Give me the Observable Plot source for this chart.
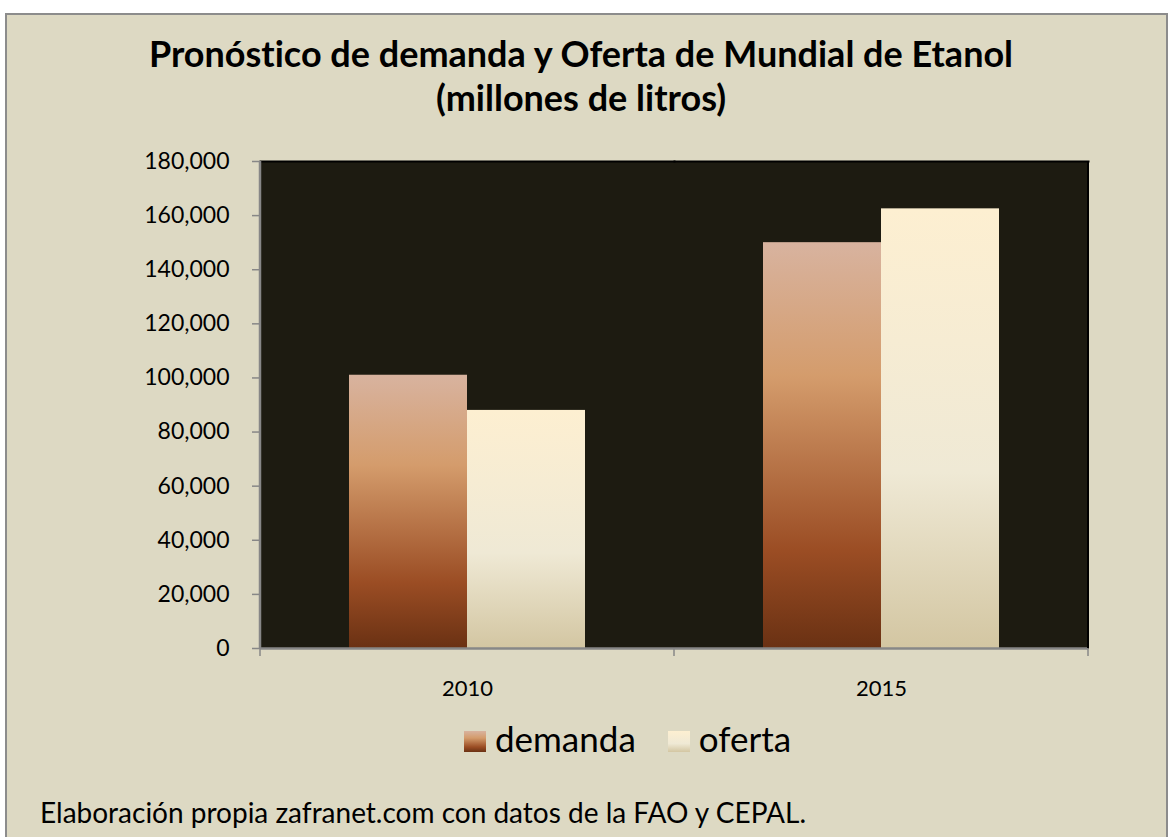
<!DOCTYPE html>
<html><head><meta charset="utf-8">
<script src="https://cdn.jsdelivr.net/npm/d3@7"></script>
<script src="https://cdn.jsdelivr.net/npm/@observablehq/plot@0.6"></script>
<style>
html,body{margin:0;padding:0;background:#fff;}
body{width:1170px;height:837px;position:relative;overflow:hidden;font-family:Lato,"Open Sans",sans-serif;color:#000;font-variant-ligatures:none;}
#panel{position:absolute;left:5px;top:13px;width:1163px;height:900px;background:#ddd9c3;border:2px solid #8c8c8c;box-sizing:border-box;}
#title{position:absolute;left:0;width:1162px;top:31px;text-align:center;font-weight:bold;font-size:36px;line-height:44px;}
#chart{position:absolute;left:0;top:140px;}
#legend{position:absolute;left:464px;top:717px;font-size:35px;line-height:42px;white-space:nowrap;}
#legend .sw{display:inline-block;width:22px;height:21px;vertical-align:baseline;margin-right:9px;}
#legend .lab{margin-right:32px;}
#caption{position:absolute;left:40px;top:796px;font-size:28px;line-height:32px;white-space:nowrap;}
</style></head>
<body>
<div id="panel"></div>
<svg id="defs" width="0" height="0" style="position:absolute"></svg>
<div id="title"></div>
<div id="chart"></div>
<div id="legend"></div>
<div id="caption"></div>
<script>
// ---- data ----
const years = ["2010", "2015"];
const series = ["demanda", "oferta"];
const demanda = [101000, 150000];
const oferta = [88000, 162500];
const yTicks = [0, 20000, 40000, 60000, 80000, 100000, 120000, 140000, 160000, 180000];
const titleLines = ["Pronóstico de demanda y Oferta de Mundial de Etanol", "(millones de litros)"];
const captionText = "Elaboración propia zafranet.com con datos de la FAO y CEPAL.";

// ---- styles ----
const gradStops = {
  demanda: [[0, "#d8b39f"], [0.33, "#d49c6c"], [0.76, "#9b4d24"], [1, "#6a3113"]],
  oferta: [[0, "#fdefd1"], [0.6, "#efe9d5"], [1, "#d3c6a2"]]
};
const plotBg = "#1d1b11";
const axisGray = "#878787";

// gradients
const defs = d3.select("#defs").append("defs");
for (const s of series) {
  const g = defs.append("linearGradient").attr("id", "grad-" + s)
    .attr("x1", 0).attr("y1", 0).attr("x2", 0).attr("y2", 1);
  for (const [o, c] of gradStops[s]) g.append("stop").attr("offset", o).attr("stop-color", c);
}

const rows = [];
years.forEach((yr, i) => {
  rows.push({year: yr, series: "demanda", value: demanda[i]});
  rows.push({year: yr, series: "oferta", value: oferta[i]});
});

const chart = Plot.plot({
  width: 1170, height: 560,
  marginLeft: 259, marginRight: 82, marginTop: 21, marginBottom: 52,
  style: {background: "transparent", fontFamily: "Lato, 'Open Sans', sans-serif", fontSize: "23px", color: "#000", overflow: "visible"},
  fx: {domain: years, padding: 0, round: true, label: null},
  x: {domain: series, paddingInner: 0, paddingOuter: 0.74, axis: null},
  y: {domain: [0, 180000], label: null},
  marks: [
    Plot.frame({fill: plotBg, stroke: plotBg, strokeWidth: 1, shapeRendering: "crispEdges"}),
    ...series.map(s => Plot.barY(rows.filter(d => d.series === s), {fx: "year", x: "series", y: "value", fill: `url(#grad-${s})`})),
    Plot.frame({anchor: "top", stroke: "#000", strokeWidth: 2}),
    Plot.ruleY([0], {stroke: axisGray, strokeWidth: 2.5}),
    Plot.axisY(yTicks, {tickFormat: d3.format(","), tickSize: 8, tickPadding: 23, stroke: axisGray, strokeWidth: 1.5, label: null}),
    Plot.axisFx({anchor: "bottom", tickSize: 0, tickPadding: 32, fontSize: 22, label: null})
  ]
});
document.getElementById("chart").appendChild(chart);

// category separator ticks, y axis line and right edge (positions from Plot's scales)
const fxS = chart.scale("fx"), yS = chart.scale("y");
const svg = d3.select(chart);
const y0 = yS.apply(0), yTop = yS.apply(180000);
const xL = fxS.apply(years[0]);
const xR = fxS.apply(years[years.length - 1]) + fxS.bandwidth;
svg.append("line").attr("x1", xR).attr("x2", xR).attr("y1", yTop).attr("y2", y0)
  .attr("stroke", "#000").attr("stroke-width", 2);
svg.append("line").attr("x1", xL).attr("x2", xL).attr("y1", yTop).attr("y2", y0)
  .attr("stroke", axisGray).attr("stroke-width", 2.5);
const edges = years.map(v => fxS.apply(v)).concat([xR]);
for (const e of edges) {
  svg.append("line").attr("x1", e).attr("x2", e).attr("y1", y0).attr("y2", y0 + 8)
    .attr("stroke", axisGray).attr("stroke-width", 1.5);
}

// title, legend, caption
document.getElementById("title").innerHTML = titleLines.map(t => `<div>${t}</div>`).join("");
const css = s => "linear-gradient(to bottom," + gradStops[s].map(([o, c]) => `${c} ${o * 100}%`).join(",") + ")";
document.getElementById("legend").innerHTML = series.map(s =>
  `<span class="sw" style="background:${css(s)}"></span><span class="lab">${s}</span>`).join("");
document.getElementById("caption").textContent = captionText;
</script>
</body></html>
